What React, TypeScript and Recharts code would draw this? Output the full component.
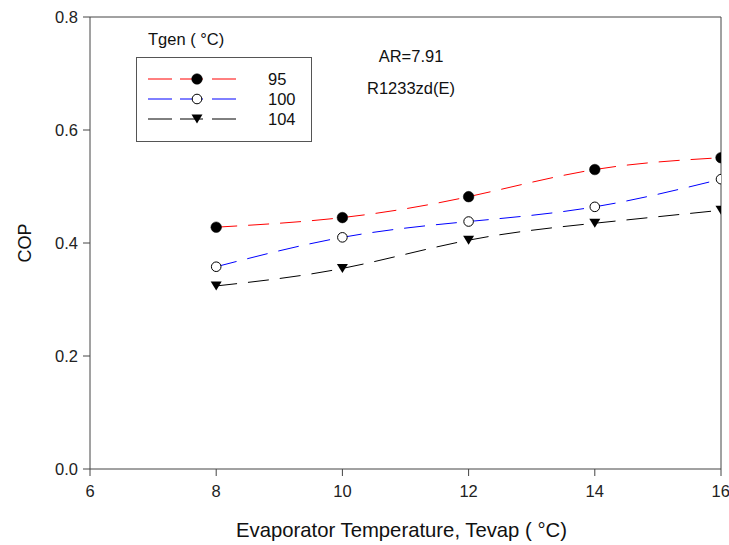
import React from "react";
import {
  LineChart,
  Line,
  XAxis,
  YAxis,
  ReferenceLine,
  Label,
} from "recharts";

// ---- data ----
const tevap = [8, 10, 12, 14, 16];
const cop95 = [0.428, 0.445, 0.482, 0.53, 0.551];
const cop100 = [0.358, 0.41, 0.438, 0.464, 0.513];
const cop104 = [0.324, 0.355, 0.405, 0.435, 0.458];
const seriesNames = ["95", "100", "104"];
const seriesKeys = ["s95", "s100", "s104"];
const seriesColors = ["#ff0000", "#0000ff", "#000000"];
const xTicks = [6, 8, 10, 12, 14, 16];
const yTicks = [0, 0.2, 0.4, 0.6, 0.8];
const legendTitle = "Tgen ( °C)";
const noteLines = ["AR=7.91", "R1233zd(E)"];
const xTitle = "Evaporator Temperature, Tevap ( °C)";
const yTitle = "COP";

const data = tevap.map((t, i) => ({
  t,
  s95: cop95[i],
  s100: cop100[i],
  s104: cop104[i],
}));

const FONT = "'Liberation Sans', Arial, sans-serif";
const AXIS = "#444";
const DASH = "21 11";
const TXT = 16.5;

type MarkerKind = "filled" | "open" | "triangle";
const markerKinds: MarkerKind[] = ["filled", "open", "triangle"];

function drawMarker(kind: MarkerKind, cx: number, cy: number, key?: any) {
  if (kind === "filled")
    return <circle key={key} cx={cx} cy={cy} r={5.3} fill="#000" stroke="#000" strokeWidth={0.5} />;
  if (kind === "open")
    return <circle key={key} cx={cx} cy={cy} r={4.8} fill="#fff" stroke="#000" strokeWidth={1} />;
  const w = 5.5;
  const h = 9;
  return (
    <path
      key={key}
      d={`M${cx - w},${cy - h / 2} L${cx + w},${cy - h / 2} L${cx},${cy + h / 2} Z`}
      fill="#000"
    />
  );
}

const makeDot = (kind: MarkerKind) => (props: any) => {
  const { cx, cy, index } = props;
  if (cx == null || cy == null) return <g key={index} />;
  return drawMarker(kind, cx, cy, index);
};

const LegendBox = () => (
  <svg
    width={176}
    height={85}
    style={{ position: "absolute", left: 136, top: 57, display: "block" }}
  >
    <rect x={0.5} y={0.5} width={175} height={84} fill="#fff" stroke="#555" strokeWidth={1} />
    {seriesNames.map((name, i) => {
      const y = 22 + i * 20;
      const c = seriesColors[i];
      return (
        <g key={name}>
          <line x1={12} x2={36} y1={y} y2={y} stroke={c} strokeWidth={1} />
          <line x1={44} x2={67} y1={y} y2={y} stroke={c} strokeWidth={1} />
          <line x1={76} x2={100} y1={y} y2={y} stroke={c} strokeWidth={1} />
          {drawMarker(markerKinds[i], 61, y)}
          <text x={132} y={y + 6} fontFamily={FONT} fontSize={TXT} fill="#111">
            {name}
          </text>
        </g>
      );
    })}
  </svg>
);

export default function App() {
  return (
    <div style={{ position: "relative", width: 729, height: 545 }}>
      <style>{"body{margin:0;}"}</style>
      <LineChart
        width={729}
        height={545}
        data={data}
        margin={{ top: 17, right: 8, bottom: 6, left: 5 }}
      >
        <XAxis
          dataKey="t"
          type="number"
          domain={[6, 16]}
          ticks={xTicks}
          allowDataOverflow
          stroke={AXIS}
          tickSize={7}
          tickMargin={9}
          height={70}
          tick={{ fill: "#222", fontSize: TXT, fontFamily: FONT }}
        >
          <Label
            content={(p: any) => {
              const vb = p.viewBox;
              return (
                <text
                  x={vb.x + vb.width / 2 - 4}
                  y={vb.y + 68}
                  textAnchor="middle"
                  fontFamily={FONT}
                  fontSize={20.3}
                  fill="#111"
                >
                  {xTitle}
                </text>
              );
            }}
          />
        </XAxis>
        <YAxis
          type="number"
          domain={[0, 0.8]}
          ticks={yTicks}
          allowDataOverflow
          stroke={AXIS}
          tickSize={7}
          tickMargin={5}
          width={85}
          tickFormatter={(v: number) => v.toFixed(1)}
          tick={{ fill: "#222", fontSize: TXT, fontFamily: FONT }}
        >
          <Label
            content={(p: any) => {
              const vb = p.viewBox;
              const x = vb.x + 20;
              const y = vb.y + vb.height / 2;
              return (
                <text
                  x={x}
                  y={y}
                  transform={`rotate(-90, ${x}, ${y})`}
                  textAnchor="middle"
                  dominantBaseline="central"
                  fontFamily={FONT}
                  fontSize={18}
                  fill="#111"
                >
                  {yTitle}
                </text>
              );
            }}
          />
        </YAxis>
        <ReferenceLine y={0.8} stroke={AXIS} />
        <ReferenceLine x={16} stroke={AXIS} />
        {seriesKeys.map((k, i) => (
          <Line
            key={k}
            dataKey={k}
            name={seriesNames[i]}
            type="natural"
            stroke={seriesColors[i]}
            strokeWidth={1}
            strokeDasharray={DASH}
            dot={makeDot(markerKinds[i])}
            isAnimationActive={false}
          />
        ))}
      </LineChart>
      <LegendBox />
      <div
        style={{
          position: "absolute",
          left: 148,
          top: 30,
          fontFamily: FONT,
          fontSize: TXT,
          color: "#111",
          whiteSpace: "nowrap",
        }}
      >
        {legendTitle}
      </div>
      {noteLines.map((s, i) => (
        <div
          key={i}
          style={{
            position: "absolute",
            left: 311,
            width: 200,
            textAlign: "center",
            top: 47 + i * 32,
            fontFamily: FONT,
            fontSize: TXT,
            color: "#111",
            whiteSpace: "nowrap",
          }}
        >
          {s}
        </div>
      ))}
    </div>
  );
}
